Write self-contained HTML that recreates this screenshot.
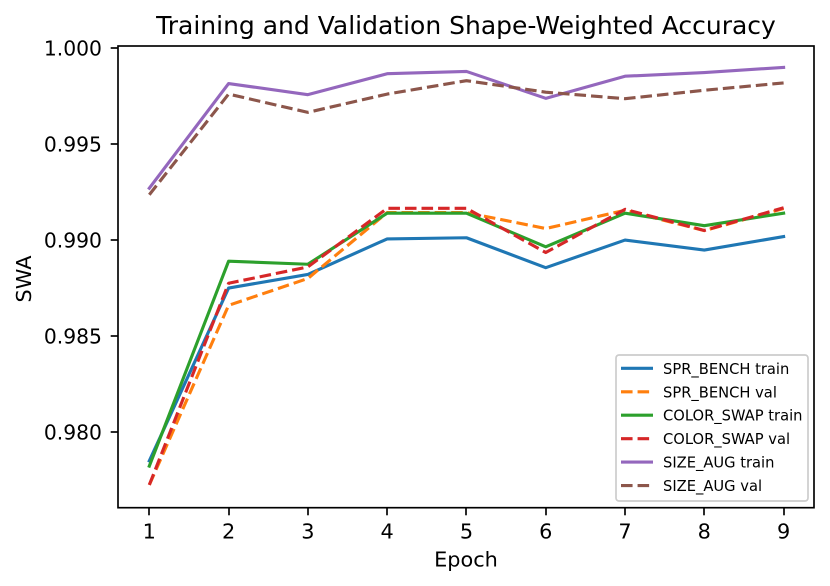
<!DOCTYPE html>
<html lang="en">
<head>
<meta charset="utf-8">
<title>Training and Validation Shape-Weighted Accuracy</title>
<style>
html,body{margin:0;padding:0;background:#fff;width:830px;height:586px;overflow:hidden}
svg{display:block}
text{font-family:"DejaVu Sans",sans-serif;fill:#000}
</style>
</head>
<body>
<svg id="chart" width="830" height="586" viewBox="0 0 830 586" xmlns="http://www.w3.org/2000/svg">
  <rect x="0" y="0" width="830" height="586" fill="#fff"/>
  <text x="466" y="34" font-size="25" text-anchor="middle">Training and Validation Shape-Weighted Accuracy</text>
  <text x="466" y="566.5" font-size="20.83" text-anchor="middle">Epoch</text>
  <text transform="translate(31,279) rotate(-90)" font-size="20.83" text-anchor="middle">SWA</text>
  <g id="ticks"></g>
  <g id="series"></g>
  <rect x="118" y="46" width="696" height="461.7" fill="none" stroke="#000" stroke-width="1.67"/>
  <g id="legend">
    <rect x="616" y="355" width="192" height="146" rx="3" ry="3" fill="#fff" fill-opacity="0.8" stroke="#ccc" stroke-width="1.67"/>
  </g>
</svg>
<script>
const epochs = [1, 2, 3, 4, 5, 6, 7, 8, 9];
const yTicks = [0.980, 0.985, 0.990, 0.995, 1.000];
const yTickLabels = ["0.980", "0.985", "0.990", "0.995", "1.000"];
const seriesNames = ["SPR_BENCH train", "SPR_BENCH val", "COLOR_SWAP train", "COLOR_SWAP val", "SIZE_AUG train", "SIZE_AUG val"];
const seriesColors = ["#1f77b4", "#ff7f0e", "#2ca02c", "#d62728", "#9467bd", "#8c564b"];
const sprBenchTrain = [0.97850, 0.98750, 0.98821, 0.99006, 0.99012, 0.98856, 0.99000, 0.98948, 0.99018];
const sprBenchVal = [0.97725, 0.98660, 0.98800, 0.99143, 0.99143, 0.99060, 0.99155, 0.99049, 0.99164];
const colorSwapTrain = [0.97823, 0.98890, 0.98874, 0.99140, 0.99140, 0.98965, 0.99140, 0.99075, 0.99140];
const colorSwapVal = [0.97725, 0.98775, 0.98860, 0.99165, 0.99165, 0.98935, 0.99160, 0.99050, 0.99168];
const sizeAugTrain = [0.99270, 0.99815, 0.99757, 0.99866, 0.99878, 0.99738, 0.99853, 0.99872, 0.99899];
const sizeAugVal = [0.99236, 0.99760, 0.99665, 0.99760, 0.99830, 0.99770, 0.99736, 0.99780, 0.99818];
const seriesValues = [sprBenchTrain, sprBenchVal, colorSwapTrain, colorSwapVal, sizeAugTrain, sizeAugVal];
const seriesDashed = [false, true, false, true, false, true];

const NS = "http://www.w3.org/2000/svg";
const xScale = function (e) { return 149.3 + (e - 1) * (783.6 - 149.3) / 8; };
const yScale = function (v) { return 48 + (1 - v) * 19205; };
const LW = 3.125;
const DASH = "11.56 5";

const ticksGroup = document.getElementById("ticks");
const seriesGroup = document.getElementById("series");
const legendGroup = document.getElementById("legend");

function make(tag, parent, attrs) {
  const el = document.createElementNS(NS, tag);
  Object.keys(attrs).forEach(function (k) { el.setAttribute(k, attrs[k]); });
  parent.appendChild(el);
  return el;
}

function squeeze(el, ratio) {
  el.setAttribute("textLength", (el.getComputedTextLength() * ratio).toFixed(2));
  el.setAttribute("lengthAdjust", "spacingAndGlyphs");
}

epochs.forEach(function (e) {
  const x = Math.round(xScale(e));
  const tick = make("line", ticksGroup, { x1: x, x2: x, y1: 508, y2: 515.3, stroke: "#000", "stroke-width": 1.67 });
  
  
  const label = make("text", ticksGroup, { x: xScale(e), y: 538.5, "font-size": 20.83, "text-anchor": "middle" });
  label.textContent = String(e);
  
  
});

yTicks.forEach(function (v, i) {
  const y = Math.round(yScale(v));
  const tick = make("line", ticksGroup, { x1: 110.7, x2: 118, y1: y, y2: y, stroke: "#000", "stroke-width": 1.67 });
  
  
  const label = make("text", ticksGroup, { x: 102, y: yScale(v) + 7.5, "font-size": 20.83, "text-anchor": "end" });
  label.textContent = yTickLabels[i];
  squeeze(label, 0.975);
  
  
});

seriesValues.forEach(function (vals, i) {
  const pts = vals.map(function (v, j) { return xScale(epochs[j]).toFixed(2) + "," + yScale(v).toFixed(2); }).join(" ");
  const line = make("polyline", seriesGroup, { points: pts, fill: "none", stroke: seriesColors[i], "stroke-width": LW, "stroke-linejoin": "round", "stroke-linecap": seriesDashed[i] ? "butt" : "square" });
  if (seriesDashed[i]) { line.setAttribute("stroke-dasharray", DASH); }
  
  
});

seriesNames.forEach(function (name, i) {
  const y = 368.3 + i * 23.45;
  const swatch = make("line", legendGroup, { x1: 621, x2: 653, y1: y, y2: y, stroke: seriesColors[i], "stroke-width": LW });
  if (seriesDashed[i]) { swatch.setAttribute("stroke-dasharray", DASH); }
  
  
  const label = make("text", legendGroup, { x: 663, y: y + 5.5, "font-size": 15.4 });
  label.textContent = name;
  squeeze(label, 0.955);
  
  
});
</script>
</body>
</html>
